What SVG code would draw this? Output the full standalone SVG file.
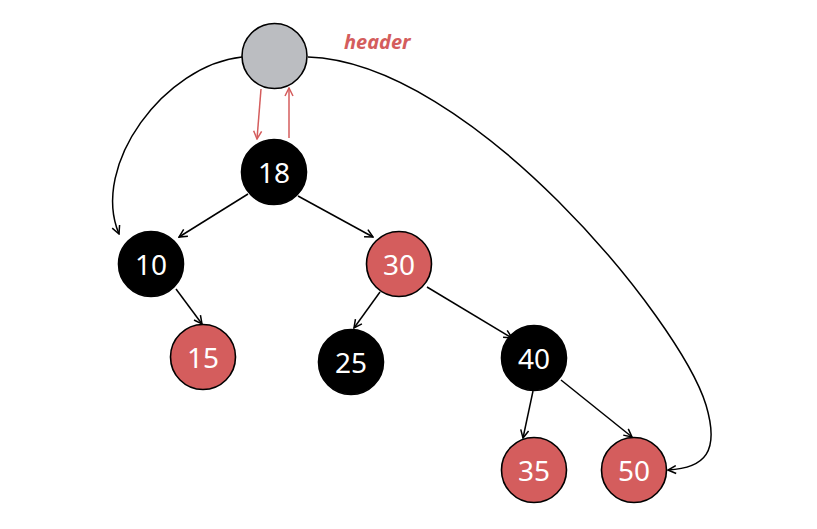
<svg xmlns="http://www.w3.org/2000/svg" width="817" height="529" viewBox="0 0 817 529">
<style>
.n circle{stroke:#000;stroke-width:1.6}
.blk circle{fill:#000}
.red circle{fill:#d45d5d}
.n text{font-family:"Noto Sans","Open Sans",sans-serif;font-size:28px;fill:#fff;text-anchor:middle;dominant-baseline:central}
.e{fill:none;stroke:#000;stroke-width:1.5;marker-end:url(#a)}
.r{fill:none;stroke:#d45d5d;stroke-width:1.5;marker-end:url(#ar)}
</style>
<defs>
<marker id="a" viewBox="0 0 10 10" refX="9" refY="5" markerWidth="10" markerHeight="10" markerUnits="userSpaceOnUse" orient="auto"><path d="M1,1 L9,5 L1,9" fill="none" stroke="#000" stroke-width="1.5"/></marker>
<marker id="ar" viewBox="0 0 10 10" refX="9" refY="5" markerWidth="10" markerHeight="10" markerUnits="userSpaceOnUse" orient="auto"><path d="M1,1 L9,5 L1,9" fill="none" stroke="#d45d5d" stroke-width="1.5"/></marker>
</defs>
<rect width="817" height="529" fill="#fff"/>
<g id="connectors">
<path class="e" d="M242,57 C165,65 90,165 119,234"/>
<path class="e" d="M308,57 C470,62 680,320 706,405 C720,452 705,468 668,470"/>
<path class="r" d="M261,89 L257,139"/>
<path class="r" d="M289,138 L289,88"/>
<path class="e" d="M248,194 L179,237"/>
<path class="e" d="M298,196 L373,237"/>
<path class="e" d="M176,289 L202,324"/>
<path class="e" d="M380,292 L354,328"/>
<path class="e" d="M427,287 L512,338"/>
<path class="e" d="M533,391 L523,438"/>
<path class="e" d="M561,380 L632,437"/>
</g>
<g id="header" class="n"><circle cx="274.5" cy="56" r="32.5" fill="#bbbdc1"/></g>
<text x="344" y="49" font-family="'Noto Sans','Open Sans',sans-serif" font-size="20" font-style="italic" font-weight="bold" fill="#d45d5d">header</text>
<g id="n18" class="n blk"><circle cx="274" cy="172" r="32.5"/><text x="274" y="172">18</text></g>
<g id="n10" class="n blk"><circle cx="151" cy="264" r="32.5"/><text x="151" y="264">10</text></g>
<g id="n30" class="n red"><circle cx="399" cy="264" r="32.5"/><text x="399" y="264">30</text></g>
<g id="n15" class="n red"><circle cx="203" cy="357" r="32.5"/><text x="203" y="357">15</text></g>
<g id="n25" class="n blk"><circle cx="351" cy="362" r="32.5"/><text x="351" y="362">25</text></g>
<g id="n40" class="n blk"><circle cx="534" cy="358" r="32.5"/><text x="534" y="358">40</text></g>
<g id="n35" class="n red"><circle cx="534" cy="470" r="32.5"/><text x="534" y="470">35</text></g>
<g id="n50" class="n red"><circle cx="634" cy="470" r="32.5"/><text x="634" y="470">50</text></g>
</svg>
